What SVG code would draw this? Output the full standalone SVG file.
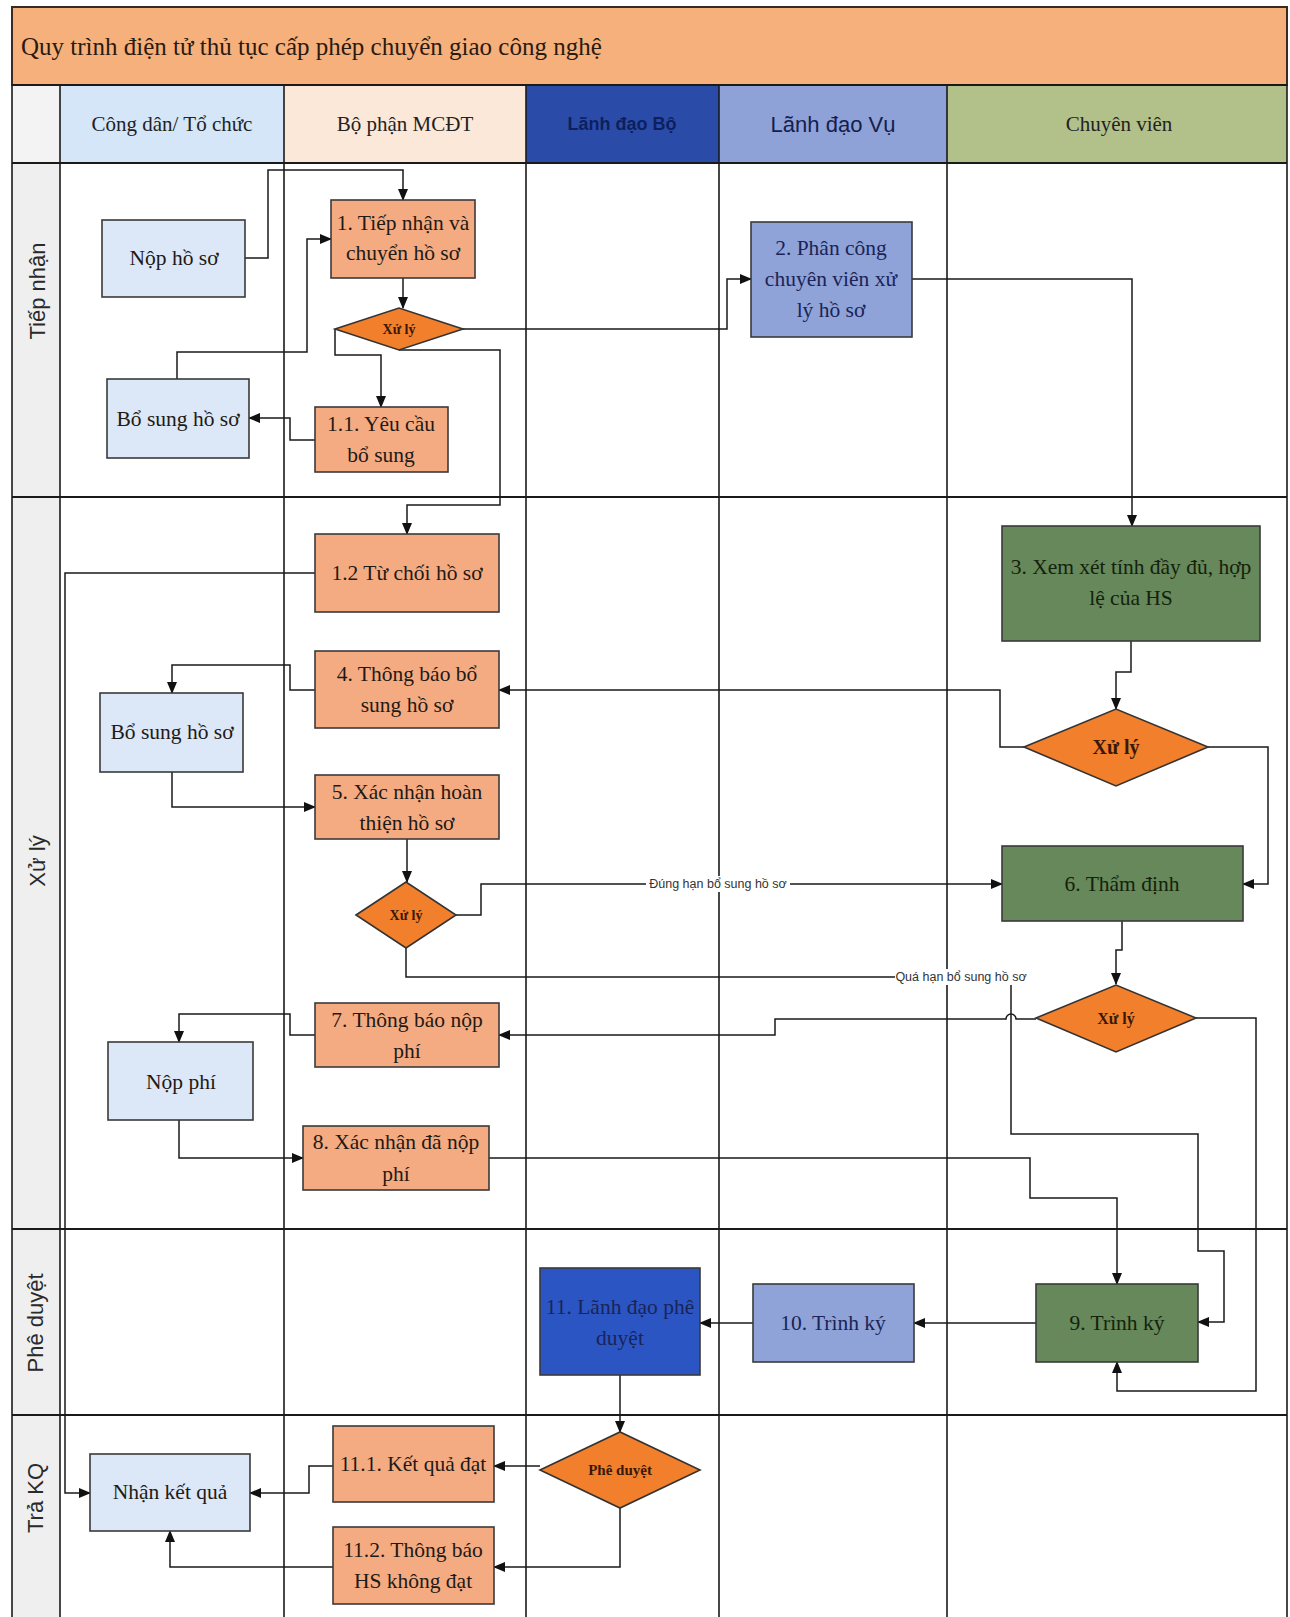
<svg xmlns="http://www.w3.org/2000/svg" width="1290" height="1617" viewBox="0 0 1290 1617">
  <style>
    .lane { stroke: #1a1a1a; stroke-width: 1.6; fill: none; }
    .row { stroke: #1a1a1a; stroke-width: 2.2; fill: none; }
    .box { stroke: #3a3a3a; stroke-width: 1.6; }
    .cit { fill: #dce7f8; }
    .mc { fill: #f5ab82; }
    .blu { fill: #8fa3d8; }
    .grn { fill: #66885a; }
    .dk { fill: #2c55c4; }
    .dia { fill: #f27f2c; stroke: #333333; stroke-width: 1.6; }
    .t { font-family: "Liberation Serif", "Times New Roman", serif; font-size: 21.5px; text-anchor: middle; dominant-baseline: central; fill: #1f1a14; }
    .tn { fill: #1a2456; }
    .tg { fill: #14220c; }
    .td { font-family: "Liberation Serif", "Times New Roman", serif; font-weight: bold; text-anchor: middle; dominant-baseline: central; fill: #3a1808; }
    .hdr { font-family: "Liberation Serif", "Times New Roman", serif; font-size: 21px; text-anchor: middle; dominant-baseline: central; fill: #222222; }
    .rl { font-family: "Liberation Sans", Arial, sans-serif; font-size: 22px; text-anchor: middle; dominant-baseline: central; fill: #2a2a2a; }
    .el { font-family: "Liberation Sans", Arial, sans-serif; font-size: 12.5px; text-anchor: middle; dominant-baseline: central; fill: #333333; }
    .cn { stroke: #1a1a1a; stroke-width: 1.5; fill: none; marker-end: url(#arr); }
  </style>
  <defs>
    <marker id="arr" markerWidth="12" markerHeight="10" refX="11" refY="5" orient="auto" markerUnits="userSpaceOnUse">
      <path d="M0,0 L12,5 L0,10 Z" fill="#111111"/>
    </marker>
  </defs>

  <!-- background -->
  <rect x="0" y="0" width="1290" height="1617" fill="#ffffff"/>

  <!-- title bar -->
  <g id="title">
    <rect x="12" y="7" width="1275" height="78" fill="#f5b07c" stroke="#3a2a20" stroke-width="2"/>
    <text x="21" y="46" font-family="Liberation Serif, Times New Roman, serif" font-size="25" fill="#2a1a10" dominant-baseline="central">Quy trình điện tử thủ tục cấp phép chuyển giao công nghệ</text>
  </g>

  <!-- swimlane headers -->
  <g id="lane-headers">
    <rect x="12" y="85" width="48" height="78" fill="#f3f3f3"/>
    <rect x="60" y="85" width="224" height="78" fill="#d4e6f8"/>
    <rect x="284" y="85" width="242" height="78" fill="#fce8d8"/>
    <rect x="526" y="85" width="193" height="78" fill="#2a4ca8"/>
    <rect x="719" y="85" width="228" height="78" fill="#8fa2d8"/>
    <rect x="947" y="85" width="340" height="78" fill="#b2c08a"/>
    <text class="hdr" x="172" y="124">Công dân/ Tổ chức</text>
    <text class="hdr" x="405" y="124">Bộ phận MCĐT</text>
    <text x="622" y="124" font-family="Liberation Sans, Arial, sans-serif" font-size="18" font-weight="bold" fill="#0e1f5e" text-anchor="middle" dominant-baseline="central">Lãnh đạo Bộ</text>
    <text x="833" y="124" font-family="Liberation Sans, Arial, sans-serif" font-size="22" fill="#14204c" text-anchor="middle" dominant-baseline="central">Lãnh đạo Vụ</text>
    <text class="hdr" x="1119" y="124">Chuyên viên</text>
  </g>

  <!-- phase label column -->
  <g id="phase-labels">
    <rect x="12" y="163" width="48" height="1454" fill="#efefef"/>
    <text class="rl" x="37" y="291" transform="rotate(-90 37 291)">Tiếp nhận</text>
    <text class="rl" x="37" y="861" transform="rotate(-90 37 861)">Xử lý</text>
    <text class="rl" x="35" y="1323" transform="rotate(-90 35 1323)">Phê duyệt</text>
    <text class="rl" x="35" y="1498" transform="rotate(-90 35 1498)">Trả KQ</text>
  </g>

  <!-- grid lines -->
  <g id="grid">
    <line class="lane" x1="12" y1="85" x2="12" y2="1617"/>
    <line class="lane" x1="60" y1="85" x2="60" y2="1617"/>
    <line class="lane" x1="284" y1="85" x2="284" y2="1617"/>
    <line class="lane" x1="526" y1="85" x2="526" y2="1617"/>
    <line class="lane" x1="719" y1="85" x2="719" y2="1617"/>
    <line class="lane" x1="947" y1="85" x2="947" y2="1617"/>
    <line class="lane" x1="1287" y1="85" x2="1287" y2="1617"/>
    <line class="row" x1="12" y1="85" x2="1287" y2="85"/>
    <line class="row" x1="12" y1="163" x2="1287" y2="163"/>
    <line class="row" x1="12" y1="497" x2="1287" y2="497"/>
    <line class="row" x1="12" y1="1229" x2="1287" y2="1229"/>
    <line class="row" x1="12" y1="1415" x2="1287" y2="1415"/>
  </g>

  <!-- connectors -->
  <g id="connectors">
    <path class="cn" d="M245,258 H268 V170 H403 V200"/>
    <path class="cn" d="M403,278 V308"/>
    <path class="cn" d="M335,329 V355 H381 V407"/>
    <path class="cn" d="M463,329 H727 V279 H751"/>
    <path class="cn" d="M399,350 H500 V505 H407 V534"/>
    <path class="cn" d="M315,440 H290 V418 H249"/>
    <path class="cn" d="M177,379 V352 H307 V239 H331"/>
    <path class="cn" d="M912,279 H1132 V526"/>
    <path class="cn" d="M315,573 H65 V1493 H90"/>
    <path class="cn" d="M1131,641 V672 H1116 V709"/>
    <path class="cn" d="M1024,747 H1000 V690 H499"/>
    <path class="cn" d="M1208,747 H1268 V884 H1243"/>
    <path class="cn" d="M315,690 H290 V665 H172 V693"/>
    <path class="cn" d="M172,772 V807 H315"/>
    <path class="cn" d="M407,839 V882"/>
    <path class="cn" d="M456,915 H481 V884 H1002"/>
    <path class="cn" d="M406,948 V977 H1011 V1134 H1198 V1251 H1224 V1322 H1198"/>
    <path class="cn" d="M1122,921 V950 H1116 V984"/>
    <path class="cn" d="M1036,1019 H1016 A5,5 0 0 0 1006,1019 H775 V1035 H499"/>
    <path class="cn" d="M1196,1018 H1256 V1391 H1117 V1362"/>
    <path class="cn" d="M315,1035 H290 V1014 H179 V1042"/>
    <path class="cn" d="M179,1120 V1158 H303"/>
    <path class="cn" d="M489,1158 H1030 V1198 H1117 V1284"/>
    <path class="cn" d="M1036,1323 H914"/>
    <path class="cn" d="M753,1323 H700"/>
    <path class="cn" d="M620,1375 V1432"/>
    <path class="cn" d="M540,1466 H494"/>
    <path class="cn" d="M620,1508 V1567 H494"/>
    <path class="cn" d="M333,1466 H309 V1493 H250"/>
    <path class="cn" d="M333,1567 H170 V1531"/>
    <!-- edge labels -->
    <rect x="646" y="876" width="144" height="16" fill="#ffffff"/>
    <text class="el" x="718" y="884">Đúng hạn bổ sung hồ sơ</text>
    <rect x="895" y="969" width="133" height="16" fill="#ffffff"/>
    <text class="el" x="961" y="977">Quá hạn bổ sung hồ sơ</text>
  </g>

  <!-- nodes: Tiếp nhận -->
  <g id="n-nop-ho-so">
    <rect class="box cit" x="102" y="220" width="143" height="77"/>
    <text class="t" x="174" y="258">Nộp hồ sơ</text>
  </g>
  <g id="n1">
    <rect class="box mc" x="331" y="200" width="144" height="78" fill="#f4a870"/>
    <text class="t" x="403" y="223">1. Tiếp nhận và</text>
    <text class="t" x="403" y="253">chuyển hồ sơ</text>
  </g>
  <g id="d1">
    <polygon class="dia" points="335,329 399,308 463,329 399,350"/>
    <text class="td" x="399" y="329" font-size="14">Xử lý</text>
  </g>
  <g id="n2">
    <rect class="box blu" x="751" y="222" width="161" height="115"/>
    <text class="t tn" x="831" y="248">2. Phân công</text>
    <text class="t tn" x="831" y="279">chuyên viên xử</text>
    <text class="t tn" x="831" y="310">lý hồ sơ</text>
  </g>
  <g id="n-bo-sung-1">
    <rect class="box cit" x="107" y="379" width="142" height="79"/>
    <text class="t" x="178" y="419">Bổ sung hồ sơ</text>
  </g>
  <g id="n1-1">
    <rect class="box mc" x="315" y="407" width="133" height="65"/>
    <text class="t" x="381" y="424">1.1. Yêu cầu</text>
    <text class="t" x="381" y="455">bổ sung</text>
  </g>

  <!-- nodes: Xử lý -->
  <g id="n1-2">
    <rect class="box mc" x="315" y="534" width="184" height="78"/>
    <text class="t" x="407" y="573">1.2 Từ chối hồ sơ</text>
  </g>
  <g id="n3">
    <rect class="box grn" x="1002" y="526" width="258" height="115" fill="#5f7f50"/>
    <text class="t tg" x="1131" y="567">3. Xem xét tính đầy đủ, hợp</text>
    <text class="t tg" x="1131" y="598">lệ của HS</text>
  </g>
  <g id="d-cv1">
    <polygon class="dia" points="1024,747 1116,709 1208,747 1116,786"/>
    <text class="td" x="1116" y="747" font-size="20" font-weight="normal">Xử lý</text>
  </g>
  <g id="n4">
    <rect class="box mc" x="315" y="651" width="184" height="77"/>
    <text class="t" x="407" y="674">4. Thông báo bổ</text>
    <text class="t" x="407" y="705">sung hồ sơ</text>
  </g>
  <g id="n-bo-sung-2">
    <rect class="box cit" x="100" y="693" width="143" height="79"/>
    <text class="t" x="172" y="732">Bổ sung hồ sơ</text>
  </g>
  <g id="n5">
    <rect class="box mc" x="315" y="775" width="184" height="64"/>
    <text class="t" x="407" y="792">5. Xác nhận hoàn</text>
    <text class="t" x="407" y="823">thiện hồ sơ</text>
  </g>
  <g id="d2">
    <polygon class="dia" points="356,915 406,882 456,915 406,948"/>
    <text class="td" x="406" y="915" font-size="14">Xử lý</text>
  </g>
  <g id="n6">
    <rect class="box grn" x="1002" y="846" width="241" height="75"/>
    <text class="t tg" x="1122" y="884">6. Thẩm định</text>
  </g>
  <g id="d3">
    <polygon class="dia" points="1036,1018 1116,985 1196,1018 1116,1052"/>
    <text class="td" x="1116" y="1018" font-size="16">Xử lý</text>
  </g>
  <g id="n7">
    <rect class="box mc" x="315" y="1003" width="184" height="64"/>
    <text class="t" x="407" y="1020">7. Thông báo nộp</text>
    <text class="t" x="407" y="1051">phí</text>
  </g>
  <g id="n-nop-phi">
    <rect class="box cit" x="108" y="1042" width="145" height="78"/>
    <text class="t" x="181" y="1082">Nộp phí</text>
  </g>
  <g id="n8">
    <rect class="box mc" x="303" y="1126" width="186" height="64"/>
    <text class="t" x="396" y="1142" font-size="23">8. Xác nhận đã nộp</text>
    <text class="t" x="396" y="1174" font-size="23">phí</text>
  </g>

  <!-- nodes: Phê duyệt -->
  <g id="n9">
    <rect class="box grn" x="1036" y="1284" width="162" height="78" fill="#6a8a5a"/>
    <text class="t tg" x="1117" y="1323">9. Trình ký</text>
  </g>
  <g id="n10">
    <rect class="box blu" x="753" y="1284" width="161" height="78"/>
    <text class="t tn" x="833" y="1323">10. Trình ký</text>
  </g>
  <g id="n11">
    <rect class="box dk" x="540" y="1268" width="160" height="107" stroke="#2c55c4"/>
    <text class="t tn" x="620" y="1307">11. Lãnh đạo phê</text>
    <text class="t tn" x="620" y="1338">duyệt</text>
  </g>

  <!-- nodes: Trả KQ -->
  <g id="d-phe-duyet">
    <polygon class="dia" points="540,1470 620,1432 700,1470 620,1508"/>
    <text class="td" x="620" y="1470" font-size="15">Phê duyệt</text>
  </g>
  <g id="n11-1">
    <rect class="box mc" x="333" y="1426" width="161" height="76"/>
    <text class="t" x="413" y="1464">11.1. Kết quả đạt</text>
  </g>
  <g id="n11-2">
    <rect class="box mc" x="333" y="1527" width="161" height="77"/>
    <text class="t" x="413" y="1550">11.2. Thông báo</text>
    <text class="t" x="413" y="1581">HS không đạt</text>
  </g>
  <g id="n-nhan-ket-qua">
    <rect class="box cit" x="90" y="1454" width="160" height="77"/>
    <text class="t" x="170" y="1492">Nhận kết quả</text>
  </g>
</svg>
